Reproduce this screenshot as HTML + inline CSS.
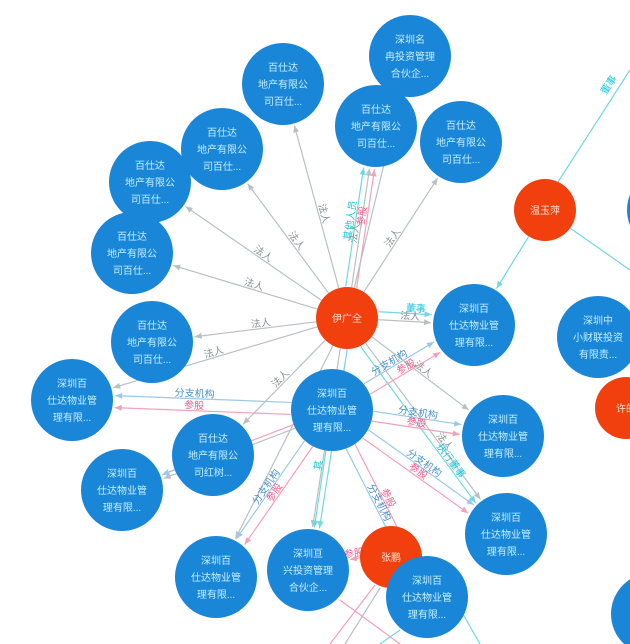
<!DOCTYPE html>
<html><head><meta charset="utf-8"><style>
html,body{margin:0;padding:0;background:#fff;width:630px;height:644px;overflow:hidden}
svg{display:block;font-family:"Liberation Sans","Noto Sans CJK SC",sans-serif}
</style></head><body>
<svg id="s" width="630" height="644" viewBox="0 0 630 644" xmlns="http://www.w3.org/2000/svg">
<g id="edges"></g><g id="labels"></g><g id="nodes"></g>
</svg>
<script>
var NS="http://www.w3.org/2000/svg";
function el(t,a,p,txt){var e=document.createElementNS(NS,t);for(var k in a)e.setAttribute(k,a[k]);if(txt)e.textContent=txt;document.getElementById(p).appendChild(e);return e;}
var B="#1a86d8",O="#f1400e";
var N={
 n1:[410,56,41,["深圳名","冉投资管理","合伙企..."],B],
 n2:[283,84,41,["百仕达","地产有限公","司百仕..."],B],
 n3:[376,126,41,["百仕达","地产有限公","司百仕..."],B],
 n4:[461,142,41,["百仕达","地产有限公","司百仕..."],B],
 n5:[222,149,41,["百仕达","地产有限公","司百仕..."],B],
 n6:[150,182,41,["百仕达","地产有限公","司百仕..."],B],
 n7:[132,253,41,["百仕达","地产有限公","司百仕..."],B],
 n8:[152,342,41,["百仕达","地产有限公","司百仕..."],B],
 n9:[72,400,41,["深圳百","仕达物业管","理有限..."],B],
 n10:[474,325,41,["深圳百","仕达物业管","理有限..."],B],
 n11:[332,410,41,["深圳百","仕达物业管","理有限..."],B],
 n12:[213,455,41,["百仕达","地产有限公","司红树..."],B],
 n13:[122,490,41,["深圳百","仕达物业管","理有限..."],B],
 n14:[503,436,41,["深圳百","仕达物业管","理有限..."],B],
 n15:[506,534,41,["深圳百","仕达物业管","理有限..."],B],
 n16:[216,577,41,["深圳百","仕达物业管","理有限..."],B],
 n17:[308,570,41,["深圳亘","兴投资管理","合伙企..."],B],
 n19:[598,337,41,["深圳中","小财联投资","有限责..."],B],
 n20:[668,210,41,["","",""],B],
 n21:[652,614,41,["蚁","",""],B],
 H:[347,318,31,["伊广全"],O],
 W:[545,210,31,["温玉萍"],O],
 X:[626,408,31,["许的"],O],
 Z:[391,557,31,["张鹏"],O],
 n18:[427,597,41,["深圳百","仕达物业管","理有限..."],B]
};
var G="#b9c0c4",P="#f4a0b8",C="#6fd8e0",L="#9cc8ea";
var LC={"#b9c0c4":"#8a9296","#f4a0b8":"#ee5d8c","#6fd8e0":"#1dc6d6","#9cc8ea":"#4a8fc8"};
function edge(a,b,col,lab,off,t){
 var A=N[a],Bn=N[b];var dx=Bn[0]-A[0],dy=Bn[1]-A[1];var d=Math.sqrt(dx*dx+dy*dy);var ux=dx/d,uy=dy/d;
 var px=-uy*(off||0),py=ux*(off||0);
 var x1=A[0]+ux*A[2]+px,y1=A[1]+uy*A[2]+py,x2=Bn[0]-ux*(Bn[2]+2)+px,y2=Bn[1]-uy*(Bn[2]+2)+py;
 el("line",{x1:x1,y1:y1,x2:x2,y2:y2,stroke:col,"stroke-width":1.2},"edges");
 var ax=x2,ay=y2;
 el("polygon",{points:ax+","+ay+" "+(ax-ux*7-uy*3)+","+(ay-uy*7+ux*3)+" "+(ax-ux*7+uy*3)+","+(ay-uy*7-ux*3),fill:col},"edges");
 if(lab){t=t||0.5;var lx=x1+(x2-x1)*t,ly=y1+(y2-y1)*t;var ang=Math.atan2(dy,dx)*180/Math.PI;if(ang>90)ang-=180;if(ang<-90)ang+=180;
  el("text",{x:lx,y:ly-2,"font-size":10,fill:LC[col],"text-anchor":"middle",transform:"rotate("+ang+" "+lx+" "+ly+")"},"labels",lab);}
}
["n2","n5","n6","n7","n8","n4","n3"].forEach(function(k){edge("H",k,G,"法人",0,0.45);});
edge("H","n3",C,"其他人员",-6,0.55);edge("H","n3",P,"参股",5,0.6);
edge("H","n1",G,"",0);
edge("H","n9",G,"法人",0,0.5);
edge("H","n12",G,"法人",0,0.5);
edge("H","n10",G,"法人",0,0.6);edge("H","n10",C,"董事",-8,0.7);
edge("H","n14",G,"法人",0,0.5);edge("H","n15",G,"法人",0,0.65);edge("H","n15",C,"执行董事",6,0.75);
edge("H","n17",C,"董事",-5,0.2);edge("H","n17",G,"",2);
edge("H","n16",G,"",0);
edge("n11","n10",L,"分支机构",-6,0.4);edge("n11","n10",P,"参股",6,0.55);
edge("n11","n9",P,"参股",-6,0.55);edge("n11","n9",L,"分支机构",6,0.55);
edge("n11","n14",L,"分支机构",-5,0.5);edge("n11","n14",P,"参股",5,0.5);
edge("n11","n15",L,"分支机构",-5,0.5);edge("n11","n15",P,"参股",5,0.5);
edge("n11","n16",P,"参股",-5,0.5);edge("n11","n16",L,"分支机构",5,0.5);
edge("n11","n17",C,"其",0,0.2);edge("n11","n18",P,"参股",-5,0.5);edge("n11","n18",L,"分支机构",5,0.5);
edge("n11","n13",P,"",0);edge("n11","n13",G,"",-4);edge("n12","n13",L,"",0);
edge("W","n10",C,"",0);
el("line",{x1:558,y1:182,x2:630,y2:70,stroke:C,"stroke-width":1.2},"edges");
el("text",{x:606,y:95,"font-size":10,fill:"#1dc6d6",transform:"rotate(-57 606 95)"},"labels","董事");
el("line",{x1:570,y1:228,x2:630,y2:270,stroke:C,"stroke-width":1.2},"edges");
edge("Z","n17",P,"参股",4,0.5);
el("line",{x1:375,y1:585,x2:330,y2:644,stroke:P,"stroke-width":1.2},"edges");
el("line",{x1:380,y1:588,x2:345,y2:644,stroke:G,"stroke-width":1.2},"edges");
el("line",{x1:400,y1:630,x2:380,y2:644,stroke:C,"stroke-width":1.2},"edges");
el("line",{x1:340,y1:600,x2:400,y2:644,stroke:P,"stroke-width":1.2},"edges");
el("line",{x1:455,y1:600,x2:480,y2:644,stroke:C,"stroke-width":1.2},"edges");
for(var k in N){var n=N[k];el("circle",{cx:n[0],cy:n[1],r:n[2],fill:n[4]},"nodes");
 var ls=n[3];var c=n[4]==O?"#ffe0d0":"#c4f0ff";
 if(ls.length==1){el("text",{x:n[0],y:n[1]+4,"font-size":10,fill:c,"text-anchor":"middle"},"nodes",ls[0]);}
 else ls.forEach(function(s,i){el("text",{x:n[0],y:n[1]-13+i*17,"font-size":10,fill:c,"text-anchor":"middle"},"nodes",s);});}
</script>
</body></html>
